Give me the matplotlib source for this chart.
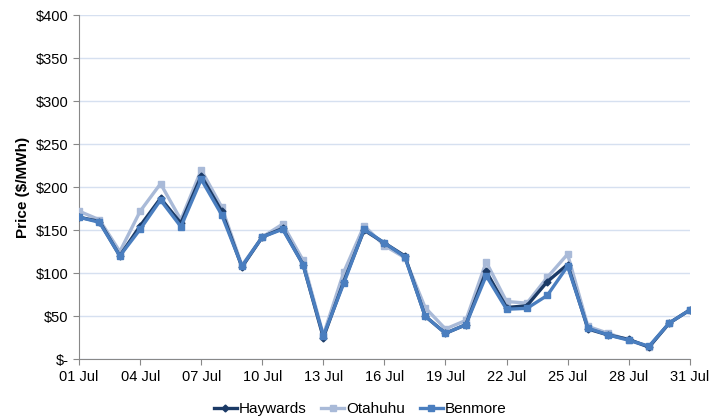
import numpy as np
import matplotlib
matplotlib.use('Agg')
import matplotlib.pyplot as plt
from matplotlib.ticker import FuncFormatter

days = np.arange(1, 32)
haywards = [165, 160, 120, 155, 187, 158, 213, 172, 107, 142, 152, 110, 25, 90, 150,
            135, 120, 50, 30, 40, 102, 60, 62, 90, 110, 35, 28, 23, 14, 42, 57]
otahuhu = [172, 162, 125, 172, 204, 162, 220, 177, 109, 142, 157, 115, 28, 101, 155,
           132, 118, 60, 35, 45, 113, 67, 65, 95, 122, 38, 30, 22, 14, 42, 57]
benmore = [165, 159, 120, 151, 185, 154, 209, 168, 108, 142, 151, 110, 27, 88, 151,
           135, 119, 50, 30, 40, 97, 58, 59, 74, 108, 36, 28, 22, 15, 42, 57]
xticks = [1, 4, 7, 10, 13, 16, 19, 22, 25, 28, 31]

plt.rcParams['font.family'] = ['Liberation Sans', 'DejaVu Sans']

fig = plt.figure(figsize=(7.26, 4.2), dpi=100)
ax = fig.add_axes([0.109, 0.145, 0.841, 0.819])

ax.plot(days, otahuhu, color='#a9bad8', lw=2.4, marker='s', ms=4, label='Otahuhu', zorder=3)
ax.plot(days, haywards, color='#1b3a66', lw=2.4, marker='D', ms=3.5, label='Haywards', zorder=4)
ax.plot(days, benmore, color='#4a7ebf', lw=2.4, marker='s', ms=5, label='Benmore', zorder=5)

ax.set_xlim(1, 31)
ax.set_ylim(0, 400)
ax.set_yticks(range(0, 401, 50))
ax.yaxis.set_major_formatter(FuncFormatter(lambda v, p: '$-' if v == 0 else f'${v:.0f}'))
ax.set_xticks(xticks)
ax.set_xticklabels([f'{d:02d} Jul' for d in xticks])
ax.grid(axis='y', color='#d6e0f0', lw=1)
ax.set_axisbelow(True)
for s in ('top', 'right'):
    ax.spines[s].set_visible(False)
ax.spines['left'].set_color('#888888')
ax.spines['bottom'].set_color('#888888')
ax.tick_params(axis='both', colors='#888888', labelcolor='black', labelsize=10.5)
ax.tick_params(axis='y', length=4, direction='out')
ax.tick_params(axis='x', length=4, direction='out')
ax.set_ylabel('Price ($/MWh)', fontsize=11, fontweight='bold', labelpad=4)

h, l = ax.get_legend_handles_labels()
order = [1, 0, 2]
ax.legend([h[i] for i in order], [l[i] for i in order], loc='upper center',
          bbox_to_anchor=(0.46, -0.085), ncol=3, frameon=False, fontsize=11,
          handlelength=1.5, handletextpad=0.1, columnspacing=1.0)

fig.savefig('out.png', dpi=100)
